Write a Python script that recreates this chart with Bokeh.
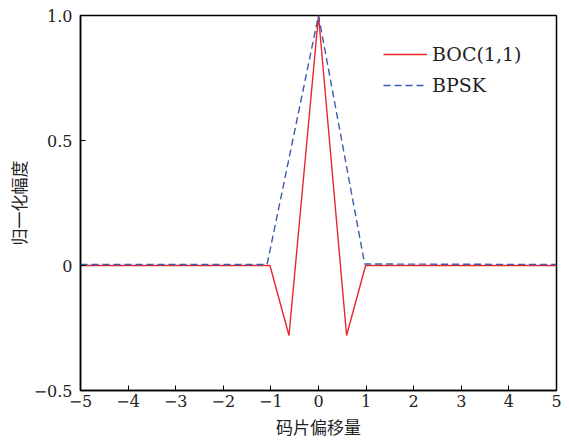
from bokeh.plotting import figure
from bokeh.models import FixedTicker, Legend, LegendItem, Range1d
from bokeh.embed import file_html
from bokeh.resources import INLINE

# Data
x_boc = [-5.0, -1.02, -0.62, 0.0, 0.59, 0.99, 5.0]
y_boc = [0.0, 0.0, -0.28, 1.0, -0.28, 0.0, 0.0]
x_bpsk = [-5.0, -1.08, 0.0, 0.97, 5.0]
y_bpsk = [0.004, 0.004, 1.0, 0.006, 0.004]

x_ticks = [-5, -4, -3, -2, -1, 0, 1, 2, 3, 4, 5]
x_tick_labels = ["\u22125", "\u22124", "\u22123", "\u22122", "\u22121", "0", "1", "2", "3", "4", "5"]
y_ticks = [-0.5, 0, 0.5, 1.0]
y_tick_labels = ["\u22120.5", "0", "0.5", "1.0"]

series_names = ["BOC(1,1)", "BPSK"]
x_label = "码片偏移量"
y_label = "归一化幅度"

SERIF = "DejaVu Serif"
CJK = "Noto Sans CJK SC"

p = figure(width=569, height=441, output_backend="svg", toolbar_location=None,
           x_range=Range1d(-5, 5), y_range=Range1d(-0.5, 1.0))
p.min_border_left = 80
p.min_border_right = 13
p.min_border_top = 15
p.min_border_bottom = 51
p.xgrid.visible = False
p.ygrid.visible = False
p.outline_line_color = "black"
p.outline_line_width = 1.5
p.background_fill_color = "white"
p.border_fill_color = "white"

for ax in (p.xaxis[0], p.yaxis[0]):
    ax.axis_line_color = "black"
    ax.axis_line_width = 1.5
    ax.major_tick_in = 5
    ax.major_tick_out = 0
    ax.major_tick_line_color = "black"
    ax.minor_tick_line_color = None
    ax.major_label_text_font = SERIF
    ax.major_label_text_font_size = "16px"
    ax.major_label_text_color = "#222222"
    ax.axis_label_text_font = CJK
    ax.axis_label_text_font_style = "normal"
    ax.axis_label_text_font_size = "17px"
    ax.axis_label_text_color = "#222222"

p.xaxis[0].ticker = FixedTicker(ticks=x_ticks)
p.xaxis[0].major_label_overrides = {t: l for t, l in zip(x_ticks, x_tick_labels)}
p.xaxis[0].axis_label = x_label
p.xaxis[0].major_label_standoff = 4
p.xaxis[0].axis_label_standoff = 4

p.yaxis[0].ticker = FixedTicker(ticks=y_ticks)
p.yaxis[0].major_label_overrides = {t: l for t, l in zip(y_ticks, y_tick_labels)}
p.yaxis[0].axis_label = y_label
p.yaxis[0].major_label_standoff = 8
p.yaxis[0].axis_label_standoff = 0

r_boc = p.line(x_boc, y_boc, line_color="#e8262b", line_width=1.4)
r_bpsk = p.line(x_bpsk, y_bpsk, line_color="#3a5bb0", line_width=1.4, line_dash="7 4")

legend = Legend(items=[LegendItem(label=series_names[0], renderers=[r_boc]),
                       LegendItem(label=series_names[1], renderers=[r_bpsk])],
                location=(303, 294), padding=0, margin=0, spacing=9,
                glyph_width=44, glyph_height=22, label_height=22, label_standoff=5,
                label_text_font=SERIF, label_text_font_size="19px", label_text_color="#222222",
                border_line_color=None, background_fill_alpha=0)
p.add_layout(legend)

open("out.html", "w").write(file_html(p, INLINE))
